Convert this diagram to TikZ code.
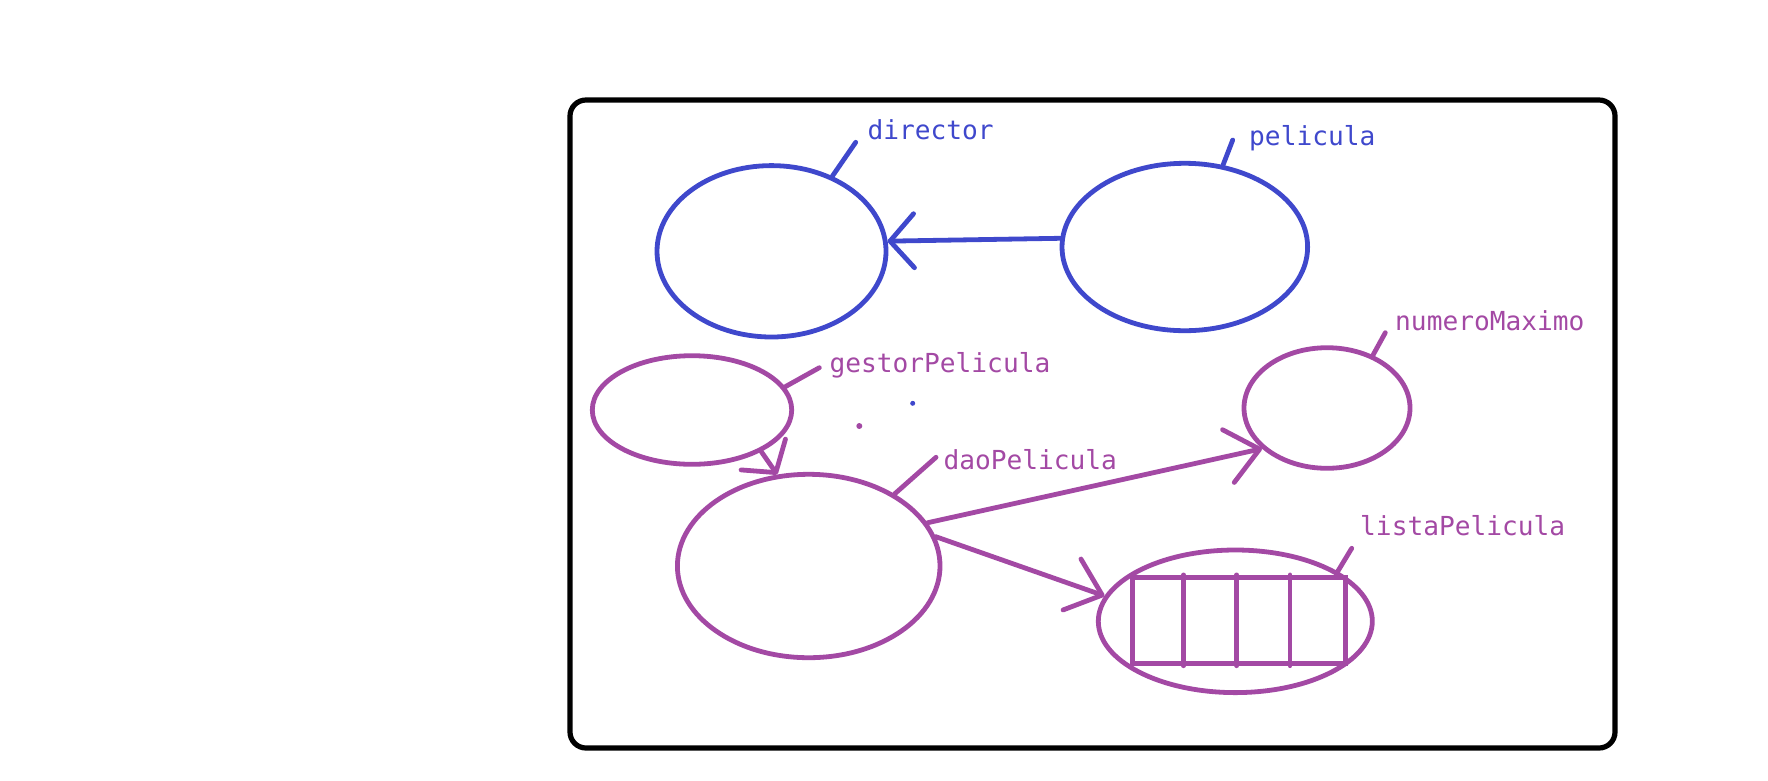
\documentclass[tikz,border=0pt]{standalone}
\usepackage{fontspec}
\newfontfamily\monolbl{DejaVu Sans Mono}
\usepackage{xcolor}
\usepackage{tikz}
\usetikzlibrary{arrows.meta,shapes.geometric}
\definecolor{objblue}{HTML}{3F48CC}
\definecolor{objpurple}{HTML}{A349A4}

\begin{document}
\begin{tikzpicture}[
    x=1pt, y=-1pt,
    line cap=round,
    frame/.style={draw, line width=5.2pt, rounded corners=16pt, minimum width=1045pt, minimum height=648pt, inner sep=0pt},
    obj/.style={ellipse, draw, line width=4.8pt, inner sep=0pt},
    bobj/.style={obj, draw=objblue},
    pobj/.style={obj, draw=objpurple},
    dot/.style={circle, inner sep=0pt, minimum size=5pt},
    tag/.style={anchor=base west, inner sep=0pt, font=\monolbl\fontsize{26.2}{30}\selectfont},
    tick/.style={line width=4.8pt},
    arrow/.style={-{Straight Barb[length=#1, width=54pt, round]}, line width=4.8pt},
    arrow/.default=32pt
]
\useasboundingbox (0,0) rectangle (1768,780);

\node[frame] (marco) at (1092.5,424) {};

\node[bobj, minimum width=229pt, minimum height=171.4pt] (director) at (771.5,251.3) {};
\node[bobj, minimum width=245.6pt, minimum height=167.4pt] (pelicula) at (1184.8,247) {};
\node[pobj, minimum width=199.4pt, minimum height=108.6pt] (gestor) at (692,410) {};
\node[pobj, minimum width=262.6pt, minimum height=183.4pt] (dao) at (808.7,566) {};
\node[pobj, minimum width=166pt, minimum height=120.6pt] (maximo) at (1327,408) {};
\node[pobj, minimum width=274pt, minimum height=142.6pt] (lista) at (1235.3,621.3) {};
\node[draw=objpurple, line width=4.8pt, minimum width=213pt, minimum height=86pt, inner sep=0pt] (cajas) at (1239.2,620.3) {};
\foreach \k in {1,2,3}
    \draw[objpurple, line width=4.8pt] ([xshift=\k*53.25pt]cajas.north west) -- ([xshift=\k*53.25pt]cajas.south west);

\node[dot, fill=objblue] (punto1) at (912.7,403.3) {};
\node[dot, fill=objpurple, minimum size=6pt] (punto2) at (859.3,426) {};

\node[tag, objblue] (directorlbl) at (867.3,139.3) {director};
\node[tag, objblue] (peliculalbl) at (1249,145) {pelicula};
\node[tag, objpurple] (gestorlbl) at (829.3,372.7) {gestorPelicula};
\node[tag, objpurple] (daolbl) at (943.3,469.3) {daoPelicula};
\node[tag, objpurple] (maximolbl) at (1395,330.7) {numeroMaximo};
\node[tag, objpurple] (listalbl) at (1360,535) {listaPelicula};

\draw[tick, objblue] (director.51) -- ([xshift=-11.6pt, yshift=-3pt]directorlbl.base west);
\draw[tick, objblue] (pelicula.65) -- ([xshift=-16.3pt, yshift=5pt]peliculalbl.base west);
\draw[tick, objpurple] (gestor.14) -- ([xshift=-10pt, yshift=5pt]gestorlbl.base west);
\draw[tick, objpurple] (dao.40) -- ([xshift=-7.3pt, yshift=12pt]daolbl.base west);
\draw[tick, objpurple] (maximo.49) -- ([xshift=-9.7pt, yshift=-2pt]maximolbl.base west);
\draw[tick, objpurple] (lista.26) -- ([xshift=-8.3pt, yshift=-13.3pt]listalbl.base west);

\draw[arrow=24pt, objblue] (pelicula.176) -- (director.5);
\draw[arrow=22pt, objpurple] (gestor.-31) -- (dao.109);
\draw[arrow, objpurple] (dao.20) -- (maximo.212);
\draw[arrow, objpurple] (dao.13) -- (lista.169);
\end{tikzpicture}
\end{document}
